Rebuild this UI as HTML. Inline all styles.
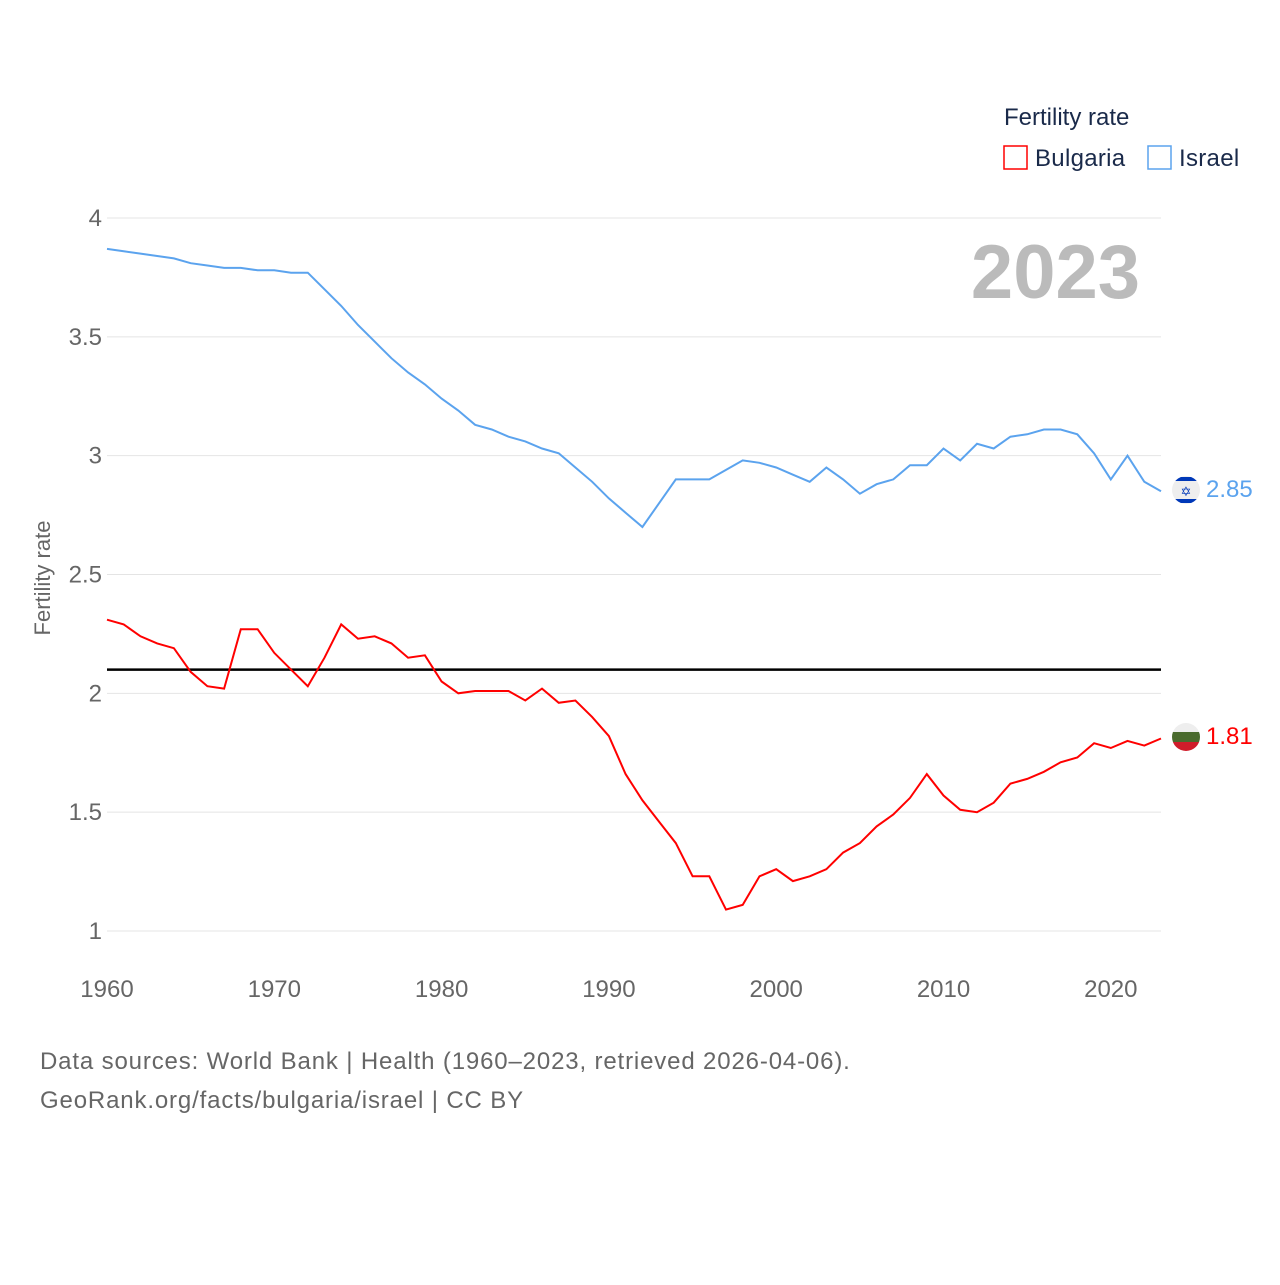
<!DOCTYPE html>
<html><head><meta charset="utf-8"><style>
body{margin:0;background:#fff;}
svg text{font-family:"Liberation Sans",sans-serif;}
</style></head><body>
<svg width="1280" height="1280" xmlns="http://www.w3.org/2000/svg">
<defs>
<clipPath id="c1"><circle cx="1186" cy="490" r="14"/></clipPath>
<clipPath id="c2"><circle cx="1186" cy="737" r="14"/></clipPath>
</defs>
<g id="grid"></g>
<g id="xt"></g>
<text x="50" y="578" transform="rotate(-90 50 578)" text-anchor="middle" font-size="22" fill="#666">Fertility rate</text>
<text x="1140" y="298" text-anchor="end" font-size="76" font-weight="bold" fill="#bbb">2023</text>
<text x="1004" y="125" font-size="24" fill="#1a2a4a">Fertility rate</text>
<g><rect x="1004" y="146" width="23" height="23" fill="none" stroke="#f00" stroke-width="1.5"/><text x="1035" y="166" font-size="24" letter-spacing="0.3" fill="#1a2a4a">Bulgaria</text></g>
<g><rect x="1148" y="146" width="23" height="23" fill="none" stroke="#5ba3ee" stroke-width="1.5"/><text x="1179" y="166" font-size="24" letter-spacing="0.3" fill="#1a2a4a">Israel</text></g>
<line id="ref" x1="107" x2="1161" stroke="#000" stroke-width="2.5"/>
<path id="isr" fill="none" stroke="#5ba3ee" stroke-width="2"/>
<path id="bgr" fill="none" stroke="#f00" stroke-width="2"/>
<g clip-path="url(#c1)"><rect x="1170" y="474" width="32" height="32" fill="#eee"/><rect x="1170" y="477" width="32" height="4" fill="#0038b8"/><rect x="1170" y="499" width="32" height="4" fill="#0038b8"/><text x="1186" y="496" font-size="13" text-anchor="middle" fill="#0038b8">✡</text></g>
<text x="1206" y="497" font-size="24" fill="#5ba3ee">2.85</text>
<g clip-path="url(#c2)"><rect x="1170" y="721" width="32" height="11" fill="#eee"/><rect x="1170" y="732" width="32" height="10" fill="#4a6b2e"/><rect x="1170" y="742" width="32" height="12" fill="#d01c2a"/></g>
<text x="1206" y="744" font-size="24" fill="#f00">1.81</text>
<text x="40" y="1069" font-size="24" letter-spacing="0.85" fill="#666">Data sources: World Bank | Health (1960–2023, retrieved 2026-04-06).</text>
<text x="40" y="1108" font-size="24" letter-spacing="0.85" fill="#666">GeoRank.org/facts/bulgaria/israel | CC BY</text>
</svg>
<script>
const years=[];for(let y=1960;y<=2023;y++)years.push(y);
const israel=[3.87,3.86,3.85,3.84,3.83,3.81,3.80,3.79,3.79,3.78,3.78,3.77,3.77,3.70,3.63,3.55,3.48,3.41,3.35,3.30,3.24,3.19,3.13,3.11,3.08,3.06,3.03,3.01,2.95,2.89,2.82,2.76,2.70,2.80,2.90,2.90,2.90,2.94,2.98,2.97,2.95,2.92,2.89,2.95,2.90,2.84,2.88,2.90,2.96,2.96,3.03,2.98,3.05,3.03,3.08,3.09,3.11,3.11,3.09,3.01,2.90,3.00,2.89,2.85];
const bulgaria=[2.31,2.29,2.24,2.21,2.19,2.09,2.03,2.02,2.27,2.27,2.17,2.10,2.03,2.15,2.29,2.23,2.24,2.21,2.15,2.16,2.05,2.00,2.01,2.01,2.01,1.97,2.02,1.96,1.97,1.90,1.82,1.66,1.55,1.46,1.37,1.23,1.23,1.09,1.11,1.23,1.26,1.21,1.23,1.26,1.33,1.37,1.44,1.49,1.56,1.66,1.57,1.51,1.50,1.54,1.62,1.64,1.67,1.71,1.73,1.79,1.77,1.80,1.78,1.81];
const yTicks=[1,1.5,2,2.5,3,3.5,4];
const xTicks=[1960,1970,1980,1990,2000,2010,2020];
const refValue=2.1;
const NS="http://www.w3.org/2000/svg";
const X=y=>107+(y-1960)*(1161-107)/63;
const Y=v=>931-(v-1)*(931-218)/3;
const g=document.getElementById('grid');
yTicks.forEach(t=>{
 const l=document.createElementNS(NS,'line');
 l.setAttribute('x1',107);l.setAttribute('x2',1161);l.setAttribute('y1',Y(t));l.setAttribute('y2',Y(t));
 l.setAttribute('stroke','#e4e4e4');l.setAttribute('stroke-width','1');
 
 
 g.appendChild(l);
 const tx=document.createElementNS(NS,'text');
 tx.setAttribute('x',102);tx.setAttribute('y',Y(t)+8);tx.setAttribute('text-anchor','end');
 tx.setAttribute('font-size','24');tx.setAttribute('fill','#666');tx.textContent=String(t);
 
 
 g.appendChild(tx);
});
const xt=document.getElementById('xt');
xTicks.forEach(t=>{
 const tx=document.createElementNS(NS,'text');
 tx.setAttribute('x',X(t));tx.setAttribute('y',997);tx.setAttribute('text-anchor','middle');
 tx.setAttribute('font-size','24');tx.setAttribute('fill','#666');tx.textContent=String(t);
 
 
 xt.appendChild(tx);
});
const r=document.getElementById('ref');r.setAttribute('y1',Y(refValue));r.setAttribute('y2',Y(refValue));
const path=a=>a.map((v,i)=>(i?'L':'M')+X(years[i]).toFixed(1)+' '+Y(v).toFixed(1)).join(' ');
document.getElementById('isr').setAttribute('d',path(israel));
document.getElementById('bgr').setAttribute('d',path(bulgaria));
</script>
</body></html>
